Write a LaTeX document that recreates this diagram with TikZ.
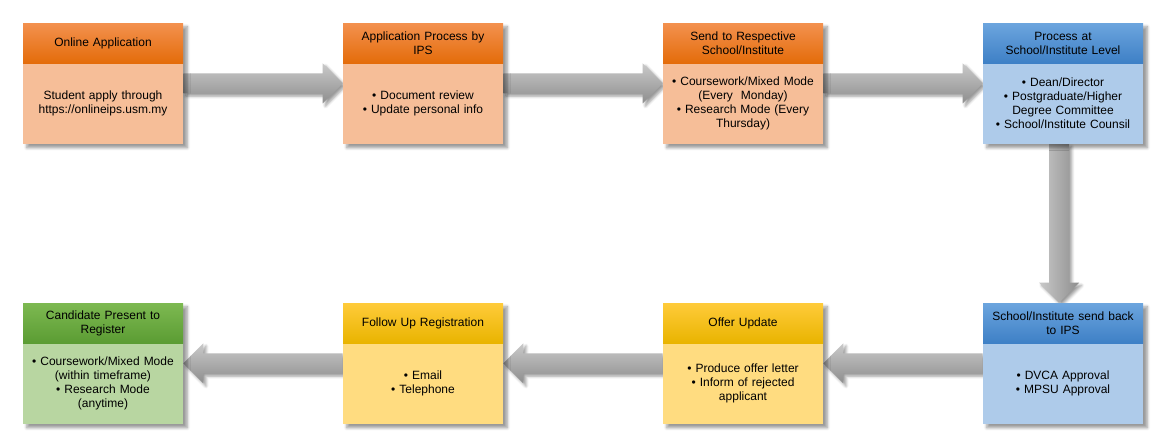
\documentclass[tikz,border=0pt]{standalone}
\usepackage{fontspec}
\setmainfont{Liberation Sans}
\usetikzlibrary{positioning,calc,fit,backgrounds,shadows.blur}

\definecolor{orangetop}{HTML}{F3914F}
\definecolor{orangebot}{HTML}{E46C0A}
\definecolor{orangebody}{HTML}{F6BE98}
\definecolor{bluetop}{HTML}{6CA5DE}
\definecolor{bluebot}{HTML}{3E80C6}
\definecolor{bluebody}{HTML}{AECBEA}
\definecolor{yellowtop}{HTML}{FFCB3A}
\definecolor{yellowbot}{HTML}{E9B400}
\definecolor{yellowbody}{HTML}{FFDC80}
\definecolor{greentop}{HTML}{7DB951}
\definecolor{greenbot}{HTML}{5B9C33}
\definecolor{greenbody}{HTML}{B8D6A1}
\definecolor{arrlight}{HTML}{C9C9C9}
\definecolor{arrdark}{HTML}{8E8E8E}

\tikzset{
	head/.style={minimum width=120pt, minimum height=30pt, text width=114pt, inner sep=0pt,
		align=center, top color=#1top, bottom color=#1bot, font=\fontsize{9}{10.5}\selectfont},
	body/.style={minimum width=120pt, minimum height=60pt, text width=114pt, inner sep=0pt,
		align=center, fill=#1body, font=\fontsize{9}{10.5}\selectfont},
	boxshadow/.style={inner sep=0pt, fill=white,
		blur shadow={shadow xshift=3pt, shadow yshift=-3pt, shadow blur steps=6}},
	flowarr/.style={top color=arrlight, bottom color=arrdark,
		blur shadow={shadow xshift=2pt, shadow yshift=-2pt, shadow blur steps=5}}
}

% block arrow: #2 = start, #3 = tip
\newcommand{\flowarrow}[3][]{%
	\coordinate (hb) at ($(#3)!15pt!(#2)$);
	\path[flowarr,#1] ($(#2)!7.5pt!90:(#3)$) -- ($(hb)!7.5pt!90:(#3)$) -- ($(hb)!15pt!90:(#3)$)
		-- (#3) -- ($(hb)!15pt!-90:(#3)$) -- ($(hb)!7.5pt!-90:(#3)$) -- ($(#2)!7.5pt!-90:(#3)$) -- cycle;
}

\begin{document}
\begin{tikzpicture}[x=0.75pt, y=-0.75pt]
	\useasboundingbox (0,0) rectangle (1163,443);
	
	% top row
	\node[head=orange] (h1) at (103,43) {Online Application};
	\node[body=orange, below=0pt of h1] (b1) {Student apply through\\https://onlineips.usm.my};
	
	\node[head=orange] (h2) at (423,43) {Application Process by\\IPS};
	\node[body=orange, below=0pt of h2] (b2) {• Document review\\• Update personal info};
	
	\node[head=orange] (h3) at (743,43) {Send to Respective\\School/Institute};
	\node[body=orange, below=0pt of h3] (b3) {• Coursework/Mixed Mode\\(Every\ \ Monday)\\• Research Mode (Every\\Thursday)};
	
	\node[head=blue] (h4) at (1063,43) {Process at\\School/Institute Level};
	\node[body=blue, below=0pt of h4] (b4) {• Dean/Director\\• Postgraduate/Higher\\Degree Committee\\• School/Institute Counsil};
	
	% bottom row
	\node[head=blue] (h5) at (1063,323) {School/Institute send back\\to IPS};
	\node[body=blue, below=0pt of h5] (b5) {• DVCA Approval\\• MPSU Approval};
	
	\node[head=yellow] (h6) at (743,323) {Offer Update};
	\node[body=yellow, below=0pt of h6] (b6) {• Produce offer letter\\• Inform of rejected\\applicant};
	
	\node[head=yellow] (h7) at (423,323) {Follow Up Registration};
	\node[body=yellow, below=0pt of h7] (b7) {• Email\\• Telephone};
	
	\node[head=green] (h8) at (103,323) {Candidate Present to\\Register};
	\node[body=green, below=0pt of h8] (b8) {• Coursework/Mixed Mode\\(within timeframe)\\• Research Mode\\(anytime)};
	
	\coordinate (a1) at ($(b1.north east)!.25!(b1.south east)$);
	\coordinate (a2) at ($(b2.north west)!.25!(b2.south west)$);
	\coordinate (a3) at ($(b2.north east)!.25!(b2.south east)$);
	\coordinate (a4) at ($(b3.north west)!.25!(b3.south west)$);
	\coordinate (a5) at ($(b3.north east)!.25!(b3.south east)$);
	\coordinate (a6) at ($(b4.north west)!.25!(b4.south west)$);
	\coordinate (a7) at ($(b4.south)+(-4,0)$);
	\coordinate (a8) at ($(h5.north)+(-4,0)$);
	\coordinate (a9) at ($(b5.north west)!.25!(b5.south west)$);
	\coordinate (a10) at ($(b6.north east)!.25!(b6.south east)$);
	\coordinate (a11) at ($(b6.north west)!.25!(b6.south west)$);
	\coordinate (a12) at ($(b7.north east)!.25!(b7.south east)$);
	\coordinate (a13) at ($(b7.north west)!.25!(b7.south west)$);
	\coordinate (a14) at ($(b8.north east)!.25!(b8.south east)$);
	
	\begin{scope}[on background layer]
		\flowarrow{a1}{a2}
		\flowarrow{a3}{a4}
		\flowarrow{a5}{a6}
		\flowarrow[left color=arrlight, right color=arrdark]{a7}{a8}
		\flowarrow{a9}{a10}
		\flowarrow{a11}{a12}
		\flowarrow{a13}{a14}
		\foreach \i in {1,...,8}
			\node[boxshadow, fit=(h\i)(b\i)] (s\i) {};
	\end{scope}
\end{tikzpicture}
\end{document}
